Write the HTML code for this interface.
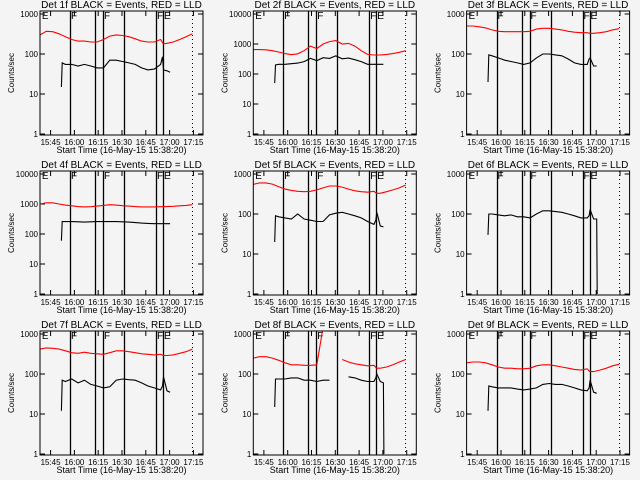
<!DOCTYPE html>
<html><head><meta charset="utf-8"><style>
html,body{margin:0;padding:0;background:#f4f4f4;}
svg{display:block;font-family:"Liberation Sans",sans-serif;}
</style></head><body>
<svg id="chart" width="640" height="480" viewBox="0 0 640 480" xmlns="http://www.w3.org/2000/svg"></svg>
<script>
const titles = ["Det 1f","Det 2f","Det 3f","Det 4f","Det 5f","Det 6f","Det 7f","Det 8f","Det 9f"];
const yMaxDecade = [3,4,3,4,3,3,3,3,3];
const redTimes = [0,4,8,12,16,20,24,28,32,36,40,44,48,52,56,60,64,68,72,76,77.6,80,84,88,92,96];
const blackTimes = [13.5,14,16,20,24,28,32,36,40,44,48,52,56,60,64,68,72,76,77.2,77.8,80,82,82.3];
const xTickLabels = ["15:45","16:00","16:15","16:30","16:45","17:00","17:15"];
const xTickMinutes = [6.67,21.67,36.67,51.67,66.67,81.67,96.67];
const solidLineMinutes = [18.9,34.7,39.7,52.9,73.1,77.5];
const dottedLineMinutes = [95.8];
const markerLetters = ["E","F","F","F","E"];
const markerMinutes = [1.2,19.5,40.3,73.7,78.1];
const red1 = [300,370,360,320,270,230,210,210,200,200,230,280,300,290,270,240,210,200,200,230,180,185,200,230,270,320];
const red2 = [650,650,640,600,540,480,440,470,600,850,700,1000,1200,1300,1000,1050,850,600,450,430,430,430,450,480,530,600];
const red3 = [500,500,480,450,400,370,360,360,360,360,370,420,440,440,420,400,370,350,340,340,330,330,340,360,400,430];
const red4 = [1000,1100,1100,1000,920,870,820,800,810,850,900,950,920,880,850,820,800,800,800,810,810,820,840,870,900,950];
const red5 = [550,600,600,560,480,420,390,370,360,370,400,450,500,500,470,420,380,360,350,370,330,330,360,400,450,530];
const red6 = [];
const red7 = [420,450,440,420,380,340,330,350,330,320,310,340,380,380,360,340,320,310,300,310,290,290,300,330,360,420];
const red8 = [250,270,270,250,220,190,170,170,165,165,170,1500,null,null,230,200,180,170,160,165,140,140,150,170,200,230];
const red9 = [190,200,200,190,170,150,140,140,135,135,140,160,170,170,160,150,140,130,125,135,115,115,125,140,160,175];
const black1 = [15,60,55,55,50,55,50,45,45,70,70,65,60,55,45,40,42,55,85,40,38,35,null];
const black2 = [50,200,210,210,220,230,260,330,280,350,330,400,320,340,300,260,210,210,210,210,210,210,null];
const black3 = [20,95,90,80,70,65,60,55,60,80,100,100,95,90,75,60,55,55,75,80,50,50,null];
const black4 = [60,260,260,260,255,250,255,260,260,260,260,255,250,240,230,225,220,220,220,220,220,220,null];
const black5 = [20,90,85,80,75,100,75,70,65,65,95,105,110,100,90,80,65,55,70,110,50,48,null];
const black6 = [30,100,100,95,90,95,85,85,80,100,120,120,115,110,100,90,80,80,90,130,75,75,1];
const black7 = [12,70,65,75,60,70,55,50,45,48,70,75,72,70,60,50,45,40,50,85,38,35,null];
const black8 = [15,75,75,75,80,80,70,70,65,70,70,null,null,85,80,70,65,65,80,100,65,60,1];
const black9 = [12,50,48,45,45,45,42,40,42,45,55,58,55,55,50,45,40,38,45,70,35,33,null];
const reds = [red1,red2,red3,red4,red5,red6,red7,red8,red9];
const blacks = [black1,black2,black3,black4,black5,black6,black7,black8,black9];

const NS = "http://www.w3.org/2000/svg";
const svg = document.getElementById("chart");
function mk(tag, attrs, parent){ const e=document.createElementNS(NS,tag); for(const k in attrs) e.setAttribute(k,attrs[k]); (parent||svg).appendChild(e); return e; }

const W = 163, H = 124;
for(let p=0;p<9;p++){
  const col=p%3,row=Math.floor(p/3);
  const L = 40 + col*213.3, T = 11 + row*160, B = T+H;
  const dec = yMaxDecade[p];
  const ppd = 120/dec;
  const xs = t => L + t*1.587;
  const ys = v => (B-1) - Math.log10(v)*ppd;
  const g = mk("g",{});
  
  
  const clip = mk("clipPath",{id:"c"+p},g);
  mk("rect",{x:L,y:T,width:W,height:H},clip);
  const tt = mk("text",{x:L+W/2,y:T-3,"text-anchor":"middle","font-size":"10"},g);
  tt.textContent = titles[p]+" BLACK = Events, RED = LLD";
  
  
  const yl = mk("text",{x:0,y:0,"text-anchor":"middle","font-size":"8",transform:`translate(${L-26},${T+H/2}) rotate(-90)`},g);
  yl.textContent = "Counts/sec";
  
  
  for(let d=0; d<=dec; d++){
    const y = ys(Math.pow(10,d));
    const lb = mk("text",{x:L-2,y:y+3,"text-anchor":"end","font-size":"8"},g);
    lb.textContent = String(Math.pow(10,d));
    
    
    mk("line",{x1:L,x2:L+5,y1:y,y2:y,stroke:"#000"},g);
    mk("line",{x1:L+W-5,x2:L+W,y1:y,y2:y,stroke:"#000"},g);
  }
  for(let i=0;i<xTickLabels.length;i++){
    const x = xs(xTickMinutes[i]);
    mk("line",{x1:x,x2:x,y1:B,y2:B-5,stroke:"#000"},g);
    mk("line",{x1:x,x2:x,y1:T,y2:T+5,stroke:"#000"},g);
    const lb = mk("text",{x:x,y:B+10,"text-anchor":"middle","font-size":"8"},g);
    lb.textContent = xTickLabels[i];
    
    
  }
  const xt = mk("text",{x:L+W/2,y:B+18,"text-anchor":"middle","font-size":"9"},g);
  xt.textContent = "Start Time (16-May-15 15:38:20)";
  
  
  solidLineMinutes.forEach(m=>{ const x=Math.round(xs(m))+0.5; const l=mk("line",{x1:x,x2:x,y1:T,y2:B,stroke:"#000","stroke-width":"1.3"},g);
    
     });
  dottedLineMinutes.forEach(m=>{ const x=Math.round(xs(m))+0.5; const l=mk("line",{x1:x,x2:x,y1:T,y2:B,stroke:"#000","stroke-dasharray":"1 3"},g);
    
     });
  markerLetters.forEach((s,i)=>{ const t=mk("text",{x:xs(markerMinutes[i]),y:T+8,"font-size":"10"},g); t.textContent=s;
    
     });
  function series(times, vals, color, name){
    let d="", pen=false;
    for(let i=0;i<vals.length;i++){
      const v=vals[i];
      if(v==null){pen=false;continue;}
      d += (pen?"L":"M")+xs(times[i]).toFixed(1)+" "+ys(v).toFixed(1)+" ";
      pen=true;
    }
    if(!d) return;
    const pa = mk("path",{d:d,fill:"none",stroke:color,"stroke-width":"1.1","clip-path":`url(#c${p})`},g);
    
    
  }
  series(redTimes, reds[p], "#ff0000", "lld-series");
  series(blackTimes, blacks[p], "#000000", "events-series");
  const fr = mk("rect",{x:L,y:T,width:W,height:H,fill:"none",stroke:"#000"},g);
  
  
}
</script>
</body></html>
